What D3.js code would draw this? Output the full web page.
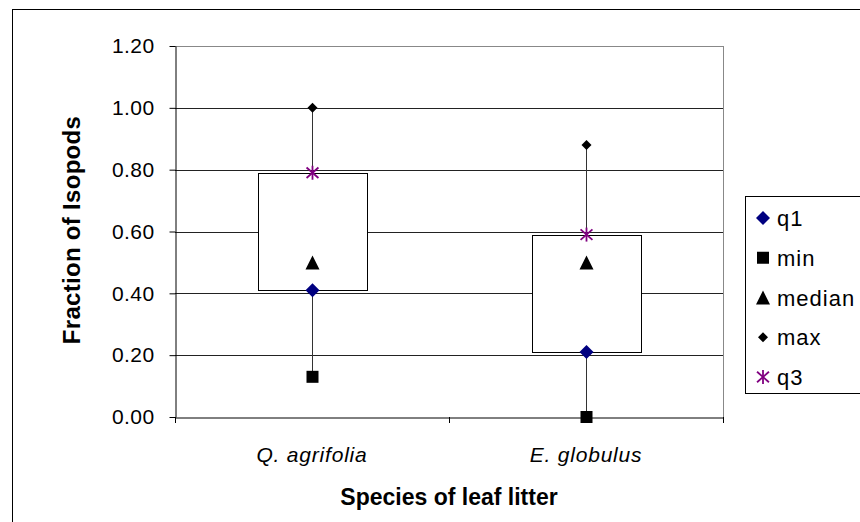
<!DOCTYPE html>
<html>
<head>
<meta charset="utf-8">
<script src="https://cdn.jsdelivr.net/npm/d3@7"></script>
<style>
  body { margin: 0; background: #fff; }
  text { font-family: Arial, "Liberation Sans", sans-serif; }
</style>
</head>
<body>
<div id="chart"></div>
<script>
// Data
const species = ["Q. agrifolia", "E. globulus"];
const q1Vals = [0.41, 0.21];
const minVals = [0.13, 0.0];
const medianVals = [0.5, 0.5];
const maxVals = [1.0, 0.88];
const q3Vals = [0.79, 0.59];
const yTicks = [0, 0.2, 0.4, 0.6, 0.8, 1.0, 1.2];
const legendNames = ["q1", "min", "median", "max", "q3"];

const W = 860, H = 522;
const plot = { left: 175, right: 723, top: 46, bottom: 417 };
const FONT = "Arial, 'Liberation Sans', sans-serif";

const svg = d3.select("#chart").append("svg")
  .attr("width", W).attr("height", H);

// outer chart border (runs past the window on right and bottom)
svg.append("rect")
  .attr("x", 12.5).attr("y", 9.5)
  .attr("width", 900).attr("height", 600)
  .attr("fill", "none").attr("stroke", "#000");

const x = d3.scaleBand()
  .domain(species)
  .range([plot.left, plot.right]);

const y = d3.scaleLinear()
  .domain([0, 1.2])
  .range([plot.bottom, plot.top]);

// gridlines
svg.append("g")
  .selectAll("line")
  .data(yTicks.slice(1))
  .join("line")
  .attr("x1", plot.left).attr("x2", plot.right)
  .attr("y1", d => Math.round(y(d)) + 0.5)
  .attr("y2", d => Math.round(y(d)) + 0.5)
  .attr("stroke", d => d === 1.2 ? "#888" : "#222");

// plot area border on the right
svg.append("line")
  .attr("x1", plot.right + 0.5).attr("x2", plot.right + 0.5)
  .attr("y1", plot.top).attr("y2", plot.bottom)
  .attr("stroke", "#888");

// y axis
const yAxis = svg.append("g")
  .attr("transform", `translate(${plot.left + 0.5},0)`)
  .call(d3.axisLeft(y).tickValues(yTicks).tickFormat(d3.format(".2f")).tickSize(6).tickSizeOuter(0));
yAxis.select(".domain").attr("stroke", "#000");
yAxis.selectAll(".tick line").attr("stroke", "#000");
yAxis.selectAll(".tick text")
  .attr("x", -21)
  .attr("font-size", 21)
  .attr("letter-spacing", 0.4)
  .attr("font-family", FONT)
  .attr("fill", "#000");

// x axis
const xAxis = svg.append("g")
  .attr("transform", `translate(0,${plot.bottom + 0.5})`)
  .call(d3.axisBottom(x).tickSize(0).tickSizeOuter(0));
xAxis.select(".domain").attr("stroke", "#000");
xAxis.selectAll(".tick text")
  .attr("y", 44)
  .attr("dy", 0)
  .attr("font-size", 21)
  .attr("letter-spacing", 0.8)
  .attr("font-style", "italic")
  .attr("font-family", FONT)
  .attr("fill", "#000");
// category separator ticks
const sepTicks = [plot.left, x(species[1]), plot.right];
svg.append("g")
  .selectAll("line")
  .data(sepTicks)
  .join("line")
  .attr("x1", d => Math.round(d) + 0.5).attr("x2", d => Math.round(d) + 0.5)
  .attr("y1", plot.bottom).attr("y2", plot.bottom + 6)
  .attr("stroke", "#000");

// axis titles
svg.append("text")
  .attr("x", 449).attr("y", 505)
  .attr("text-anchor", "middle")
  .attr("font-size", 23).attr("font-weight", "bold")
  .text("Species of leaf litter");

svg.append("text")
  .attr("transform", "translate(80,230) rotate(-90)")
  .attr("text-anchor", "middle")
  .attr("font-size", 24).attr("font-weight", "bold")
  .attr("letter-spacing", 0.3)
  .text("Fraction of Isopods");

const cx = d => x(d) + x.bandwidth() / 2;
const boxW = 109;

// whiskers
svg.append("g")
  .selectAll("line")
  .data(species)
  .join("line")
  .attr("x1", d => Math.round(cx(d)) + 0.5).attr("x2", d => Math.round(cx(d)) + 0.5)
  .attr("y1", (d, i) => y(minVals[i])).attr("y2", (d, i) => y(maxVals[i]))
  .attr("stroke", "#333");

// boxes
svg.append("g")
  .selectAll("rect")
  .data(species)
  .join("rect")
  .attr("x", d => Math.round(cx(d) - boxW / 2) + 0.5)
  .attr("y", (d, i) => Math.round(y(q3Vals[i])) + 0.5)
  .attr("width", boxW)
  .attr("height", (d, i) => Math.round(y(q1Vals[i])) - Math.round(y(q3Vals[i])))
  .attr("fill", "#fff").attr("stroke", "#000");

// marker shapes (size = half-width in px)
const markers = {
  q1: { kind: "diamond", r: 7, color: "#000080" },
  min: { kind: "square", r: 6, color: "#000" },
  median: { kind: "triangle", r: 7, color: "#000" },
  max: { kind: "diamond", r: 5, color: "#000" },
  q3: { kind: "star", r: 7, color: "#800080" }
};

function drawMarker(g, name, px, py) {
  const m = markers[name], r = m.r;
  const mg = g.append("g").attr("transform", `translate(${px},${py})`);
  if (m.kind === "diamond") {
    mg.append("path").attr("d", `M0,${-r}L${r},0L0,${r}L${-r},0Z`).attr("fill", m.color);
  } else if (m.kind === "square") {
    mg.append("rect").attr("x", -r).attr("y", -r).attr("width", 2 * r).attr("height", 2 * r).attr("fill", m.color);
  } else if (m.kind === "triangle") {
    mg.append("path").attr("d", `M0,${-r}L${r},${r}L${-r},${r}Z`).attr("fill", m.color);
  } else {
    mg.attr("stroke", m.color).attr("stroke-width", 1.8);
    mg.append("line").attr("x1", 0).attr("x2", 0).attr("y1", -r).attr("y2", r);
    mg.append("line").attr("x1", -r * 0.85).attr("x2", r * 0.85).attr("y1", -r * 0.75).attr("y2", r * 0.75);
    mg.append("line").attr("x1", -r * 0.85).attr("x2", r * 0.85).attr("y1", r * 0.75).attr("y2", -r * 0.75);
  }
}

const seriesVals = { q1: q1Vals, min: minVals, median: medianVals, max: maxVals, q3: q3Vals };
const pts = svg.append("g");
legendNames.forEach(name => {
  species.forEach((s, i) => {
    drawMarker(pts, name, Math.round(cx(s)) + 0.5, y(seriesVals[name][i]));
  });
});

// legend
const legend = svg.append("g");
legend.append("rect")
  .attr("x", 745.5).attr("y", 196.5)
  .attr("width", 200).attr("height", 197)
  .attr("fill", "#fff").attr("stroke", "#000");
legendNames.forEach((name, i) => {
  const ly = 218 + i * 39.75;
  drawMarker(legend, name, 763, ly);
  legend.append("text")
    .attr("x", 777).attr("y", ly + 8)
    .attr("font-size", 22)
    .attr("letter-spacing", 1)
    .text(name);
});
</script>
</body>
</html>
